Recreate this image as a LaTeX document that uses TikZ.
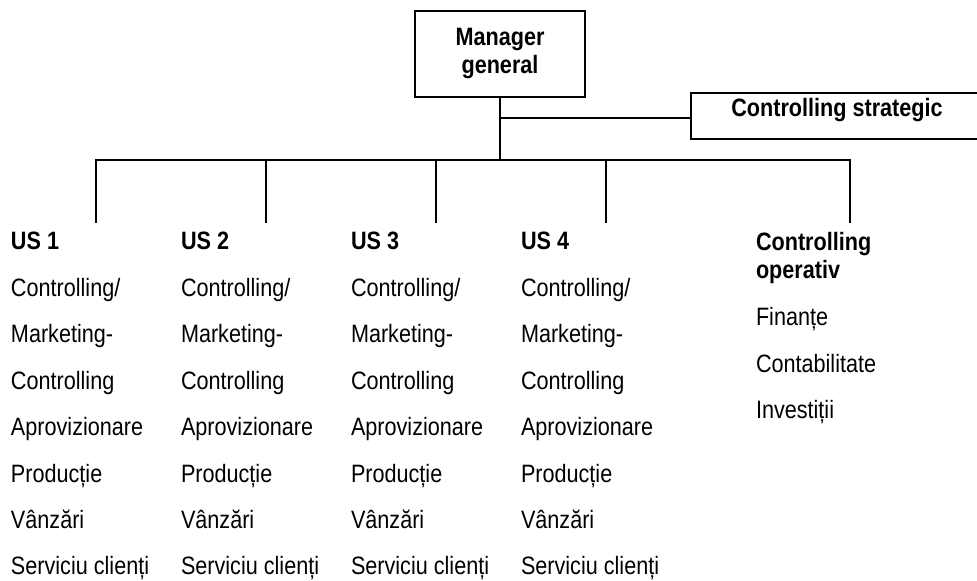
\documentclass[tikz,border=0pt]{standalone}
\usepackage{fontspec}
\setmainfont{Liberation Sans}[FakeStretch=0.86]
\begin{document}
\begin{tikzpicture}[x=0.75pt,y=-0.75pt,
  every node/.style={inner sep=0pt, outer sep=0pt, font=\fontsize{18.85pt}{21pt}\selectfont},
  boxnode/.style={draw, line width=1.05pt, rectangle},
  thickline/.style={line width=1.5pt},
  thinline/.style={line width=0.8pt},
  dropline/.style={line width=0.9pt},
  item/.style={anchor=base west},
  head/.style={anchor=base west, font=\fontsize{18.85pt}{21pt}\selectfont\bfseries}]
\useasboundingbox (0,0) rectangle (977,581);

% boxes
\node[boxnode, minimum width=127.5pt, minimum height=64.5pt, align=center,
      font=\fontsize{18.85pt}{21pt}\selectfont\bfseries] (mgr) at (500,54) {Manager\\general};
\node[boxnode, anchor=north west, minimum width=219pt, text height=18pt, text depth=16.5pt,
      font=\fontsize{18.85pt}{21pt}\selectfont\bfseries] (strat) at (691,93) {Controlling strategic};

% junctions
\coordinate (jS) at (500,118);
\coordinate (j0) at (500,160);
\coordinate (b1) at (96,160);
\coordinate (b2) at (266,160);
\coordinate (b3) at (436,160);
\coordinate (b4) at (606,160);
\coordinate (b5) at (850,160);
\coordinate (d1) at (96,223);
\coordinate (d2) at (266,223);
\coordinate (d3) at (436,223);
\coordinate (d4) at (606,223);
\coordinate (d5) at (850,223);

% connectors
\draw[thickline] (mgr.south) -- (j0);
\draw[thinline] (jS) -- (jS -| strat.west);
\draw[thickline] (b2) -- (b4);
\draw[thinline] (d1) -- (b1) -- (b2);
\draw[thinline] (b4) -- (b5) -- (d5);
\draw[dropline] (b2) -- (d2);
\draw[dropline] (b3) -- (d3);
\draw[dropline] (b4) -- (d4);

% unit columns
\foreach \cx [count=\c] in {11,181,351,521} {
  \node[head] (h\c) at (\cx,249) {US \c};
  \foreach \t [count=\r] in {Controlling/,Marketing-,Controlling,Aprovizionare,Producție,Vânzări,Serviciu clienți} {
    \node[item] (c\c-\r) at (\cx,{296.5+46.4*(\r-1)}) {\t};
  }
}

% controlling operativ column
\node[head] (op1) at (756,250.5) {Controlling};
\node[head] (op2) at (756,278.5) {operativ};
\node[item] (f1) at (756,325.5) {Finanțe};
\node[item] (f2) at (756,372) {Contabilitate};
\node[item] (f3) at (756,418.5) {Investiții};
\end{tikzpicture}
\end{document}
